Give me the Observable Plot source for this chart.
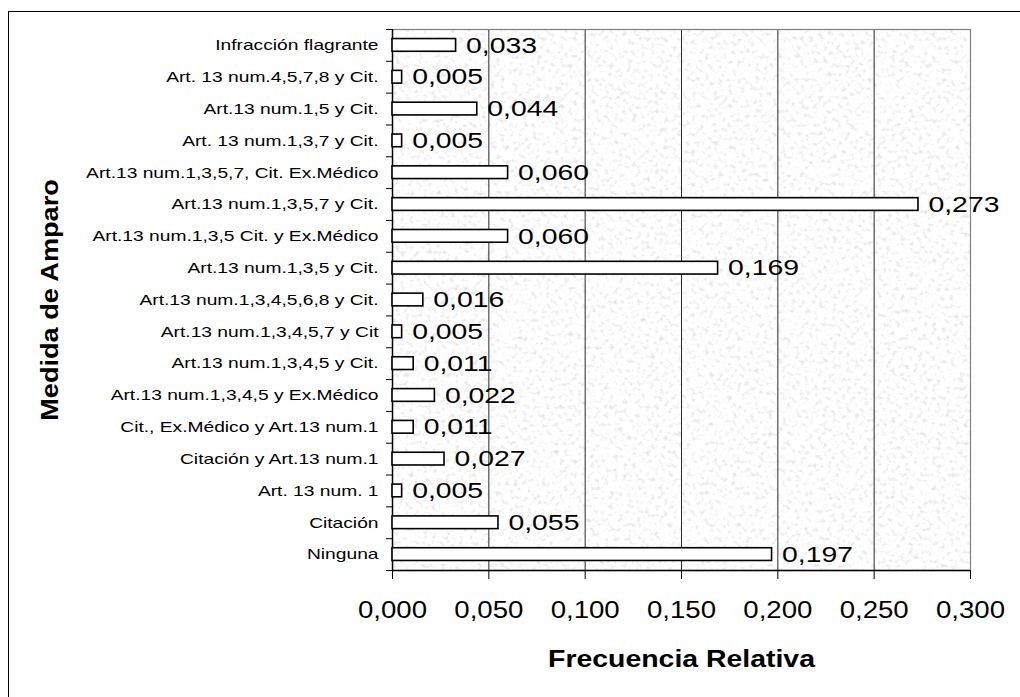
<!DOCTYPE html>
<html>
<head>
<meta charset="utf-8">
<script src="https://cdn.jsdelivr.net/npm/d3@7"></script>
<script src="https://cdn.jsdelivr.net/npm/@observablehq/plot@0.6"></script>
<style>
  html, body { margin: 0; padding: 0; background: #ffffff; }
  #wrap { position: relative; width: 1020px; height: 697px; overflow: hidden; }
  #border { position: absolute; left: 8px; top: 11px; width: 1100px; height: 800px;
            border-left: 1.6px solid #000; border-top: 1.6px solid #000; box-sizing: border-box; pointer-events: none; }
  #chart { position: absolute; left: 0; top: 0; }
</style>
</head>
<body>
<div id="wrap"><div id="chart"></div><div id="border"></div></div>
<script>
// ---- data (top to bottom as drawn) ----
const categories = [
  "Infracción flagrante",
  "Art. 13 num.4,5,7,8 y Cit.",
  "Art.13 num.1,5 y Cit.",
  "Art. 13 num.1,3,7 y Cit.",
  "Art.13 num.1,3,5,7, Cit. Ex.Médico",
  "Art.13 num.1,3,5,7 y Cit.",
  "Art.13 num.1,3,5 Cit. y Ex.Médico",
  "Art.13 num.1,3,5 y Cit.",
  "Art.13 num.1,3,4,5,6,8 y Cit.",
  "Art.13 num.1,3,4,5,7 y Cit",
  "Art.13 num.1,3,4,5 y Cit.",
  "Art.13 num.1,3,4,5 y Ex.Médico",
  "Cit., Ex.Médico y Art.13 num.1",
  "Citación y Art.13 num.1",
  "Art. 13 num. 1",
  "Citación",
  "Ninguna"
];
const values = [0.033, 0.005, 0.044, 0.005, 0.060, 0.273, 0.060, 0.169, 0.016, 0.005, 0.011, 0.022, 0.011, 0.027, 0.005, 0.055, 0.197];
const xTicks = [0, 0.05, 0.10, 0.15, 0.20, 0.25, 0.30];
const gridTicks = [0.05, 0.10, 0.15, 0.20, 0.25];
const xTitle = "Frecuencia Relativa";
const yTitle = "Medida de Amparo";

const data = categories.map((c, i) => ({cat: c, value: values[i]}));
const locale = d3.formatLocale({decimal: ",", thousands: ".", grouping: [3], currency: ["", ""]});
const fmt = locale.format(".3f");

const W = 1020, H = 697;
const mL = 392, mR = 50, mT = 29, mB = 127;
const step = (H - mT - mB) / categories.length;
const FONT = "'Liberation Sans', Arial, Helvetica, sans-serif";

const chart = Plot.plot({
  width: W,
  height: H,
  marginLeft: mL,
  marginRight: mR,
  marginTop: mT,
  marginBottom: mB,
  style: {fontFamily: FONT, color: "#000", background: "transparent", overflow: "visible"},
  x: {domain: [0, 0.3], label: null},
  y: {domain: categories, paddingInner: 0.6, paddingOuter: 0.3, round: false, label: null},
  marks: [
    Plot.frame({fill: "white", ariaLabel: "bgframe"}),
    Plot.gridX(gridTicks, {stroke: "#2a2a2a", strokeOpacity: 1, strokeWidth: 1}),
    Plot.frame({stroke: "#808080", strokeWidth: 1.2}),
    Plot.ruleX([0], {stroke: "#000", strokeWidth: 1.4}),
    Plot.ruleY([categories[categories.length - 1]], {stroke: "#000", strokeWidth: 1.4, dy: step / 2}),
    Plot.barX(data, {x: "value", y: "cat", fill: "white", stroke: "#000", strokeWidth: 1.6}),
    Plot.text(data, {x: "value", y: "cat", text: d => fmt(d.value), textAnchor: "start", dx: 10,
      fontSize: 22.5, fill: "#000", lineAnchor: "middle"}),
    Plot.axisY({tickSize: 6, text: null, dy: -step / 2, stroke: "#000"}),
    Plot.axisY([categories[categories.length - 1]], {tickSize: 6, text: null, dy: step / 2, stroke: "#000"}),
    Plot.axisY({tickSize: 0, tickPadding: 14, fontSize: 15, label: null}),
    Plot.axisX(xTicks, {tickSize: 9, tickPadding: 22.5, fontSize: 23, tickFormat: fmt, label: null}),
    Plot.text([xTitle], {frameAnchor: "bottom", lineAnchor: "bottom", dy: 96, fontSize: 24.5,
      fontWeight: "bold"}),
    Plot.text([yTitle], {frameAnchor: "left", rotate: -90, lineAnchor: "bottom", textAnchor: "middle",
      dx: 57 - mL, fontSize: 24, fontWeight: "bold"})
  ]
});

document.getElementById("chart").appendChild(chart);

// granite-like background texture
const svg = d3.select(chart);
const defs = svg.insert("defs", ":first-child");
const f = defs.append("filter").attr("id", "granite")
  .attr("x", 0).attr("y", 0).attr("width", "100%").attr("height", "100%")
  .attr("color-interpolation-filters", "sRGB");
f.append("feTurbulence").attr("type", "fractalNoise").attr("baseFrequency", 0.22)
  .attr("numOctaves", 3).attr("seed", 7).attr("result", "noise");
f.append("feColorMatrix").attr("in", "noise").attr("type", "matrix")
  .attr("values", "0.32 0 0 0 0.845  0.32 0 0 0 0.845  0.32 0 0 0 0.845  0 0 0 0 1").attr("result", "grey");
f.append("feComposite").attr("in", "grey").attr("in2", "SourceGraphic").attr("operator", "in");
svg.selectAll('[aria-label="bgframe"]').attr("filter", "url(#granite)");

// the reference's text is horizontally stretched: widen glyphs
function stretch(sel, k) {
  sel.each(function () {
    const L = this.getComputedTextLength();
    this.setAttribute("textLength", (L * k).toFixed(2));
    this.setAttribute("lengthAdjust", "spacingAndGlyphs");
  });
}
const textGroups = svg.selectAll('g[aria-label="text"]').nodes();
if (textGroups[0]) stretch(d3.select(textGroups[0]).selectAll("text"), 1.26);
if (textGroups[1]) stretch(d3.select(textGroups[1]).selectAll("text"), 1.16);
if (textGroups[2]) stretch(d3.select(textGroups[2]).selectAll("text"), 1.13);
stretch(svg.selectAll('g[aria-label="y-axis tick label"] text'), 1.28);
stretch(svg.selectAll('g[aria-label="x-axis tick label"] text'), 1.2);
</script>
</body>
</html>
